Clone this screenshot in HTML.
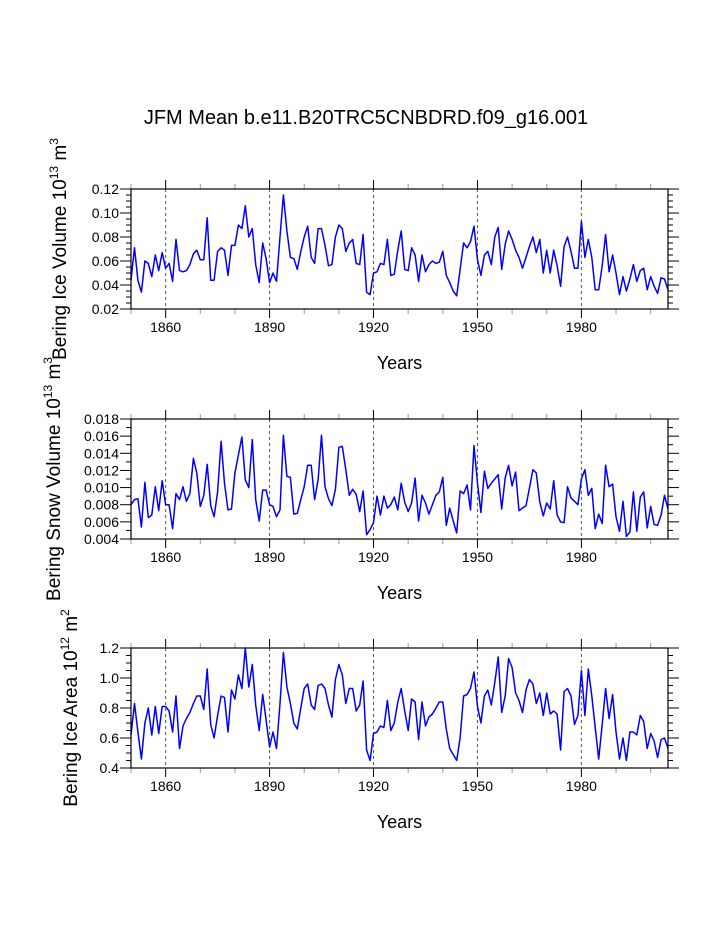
<!DOCTYPE html>
<html><head><meta charset="utf-8"><style>
body{margin:0;background:#fff;}
svg{display:block;font-family:"Liberation Sans",Arial,sans-serif;}
</style></head><body>
<svg id="chart" width="723" height="935" viewBox="0 0 723 935">
<text x="366" y="124" font-size="20" text-anchor="middle">JFM Mean b.e11.B20TRC5CNBDRD.f09_g16.001</text>
</svg>
<script>
const startYear = 1850;
const endYear = 2005;
const xTickLabels = [1860, 1890, 1920, 1950, 1980];
const iceVolume = [0.044,0.071,0.044,0.034,0.060,0.058,0.047,0.065,0.052,0.067,0.054,0.058,0.043,0.078,0.052,0.051,0.052,0.057,0.066,0.069,0.061,0.061,0.096,0.044,0.044,0.068,0.071,0.069,0.048,0.073,0.073,0.090,0.087,0.106,0.080,0.087,0.057,0.042,0.075,0.062,0.042,0.050,0.043,0.080,0.115,0.085,0.063,0.062,0.053,0.068,0.080,0.089,0.063,0.058,0.087,0.087,0.073,0.056,0.057,0.080,0.090,0.087,0.068,0.075,0.078,0.058,0.057,0.082,0.034,0.032,0.050,0.051,0.058,0.057,0.078,0.048,0.049,0.069,0.085,0.053,0.052,0.071,0.065,0.043,0.065,0.051,0.057,0.060,0.058,0.059,0.068,0.048,0.042,0.035,0.031,0.053,0.075,0.071,0.076,0.089,0.061,0.048,0.065,0.068,0.057,0.080,0.088,0.053,0.074,0.085,0.078,0.069,0.063,0.054,0.063,0.072,0.080,0.067,0.078,0.050,0.069,0.050,0.069,0.056,0.039,0.072,0.080,0.068,0.054,0.054,0.093,0.063,0.078,0.063,0.036,0.036,0.056,0.082,0.051,0.065,0.050,0.032,0.047,0.035,0.045,0.057,0.043,0.052,0.054,0.036,0.047,0.039,0.033,0.046,0.045,0.036];
const snowVolume = [0.0080,0.0086,0.0087,0.0054,0.0106,0.0065,0.0068,0.0101,0.0073,0.0108,0.0080,0.0080,0.0052,0.0093,0.0086,0.0101,0.0084,0.0093,0.0134,0.0117,0.0078,0.0091,0.0127,0.0079,0.0066,0.0095,0.0154,0.0105,0.0074,0.0075,0.0117,0.0138,0.0159,0.0109,0.0100,0.0156,0.0086,0.0061,0.0097,0.0097,0.0080,0.0078,0.0066,0.0074,0.0161,0.0113,0.0112,0.0069,0.0070,0.0086,0.0101,0.0126,0.0126,0.0086,0.0109,0.0161,0.0101,0.0087,0.0079,0.0098,0.0147,0.0148,0.0121,0.0091,0.0098,0.0092,0.0072,0.0096,0.0045,0.0051,0.0059,0.0090,0.0068,0.0090,0.0076,0.0080,0.0089,0.0074,0.0105,0.0083,0.0072,0.0082,0.0111,0.0061,0.0091,0.0082,0.0069,0.0080,0.0091,0.0095,0.0112,0.0056,0.0076,0.0061,0.0047,0.0096,0.0093,0.0103,0.0074,0.0149,0.0105,0.0071,0.0119,0.0099,0.0105,0.0110,0.0115,0.0075,0.0111,0.0126,0.0102,0.0118,0.0073,0.0076,0.0079,0.0099,0.0121,0.0117,0.0083,0.0067,0.0082,0.0075,0.0108,0.0068,0.0060,0.0059,0.0101,0.0088,0.0084,0.0080,0.0110,0.0121,0.0091,0.0099,0.0052,0.0069,0.0058,0.0126,0.0101,0.0104,0.0066,0.0049,0.0084,0.0043,0.0048,0.0095,0.0049,0.0089,0.0095,0.0053,0.0078,0.0057,0.0056,0.0068,0.0091,0.0075];
const iceArea = [0.62,0.83,0.64,0.46,0.70,0.80,0.62,0.81,0.63,0.81,0.81,0.78,0.64,0.88,0.53,0.68,0.73,0.77,0.83,0.88,0.88,0.79,1.06,0.69,0.60,0.75,0.88,0.87,0.64,0.92,0.86,1.02,0.93,1.20,0.94,1.09,0.82,0.65,0.89,0.72,0.54,0.64,0.53,0.83,1.17,0.94,0.83,0.70,0.66,0.80,0.93,0.96,0.82,0.79,0.95,0.96,0.93,0.82,0.74,0.99,1.09,1.02,0.83,0.93,0.93,0.78,0.82,0.98,0.52,0.45,0.63,0.64,0.68,0.67,0.85,0.65,0.70,0.84,0.93,0.78,0.65,0.86,0.84,0.59,0.84,0.68,0.74,0.76,0.80,0.84,0.84,0.66,0.53,0.49,0.45,0.60,0.88,0.89,0.93,1.04,0.81,0.70,0.88,0.92,0.82,0.97,1.14,0.77,0.88,1.13,1.07,0.90,0.85,0.77,0.92,0.99,0.96,0.83,0.90,0.75,0.90,0.76,0.78,0.76,0.52,0.91,0.93,0.88,0.69,0.75,1.05,0.75,1.06,0.88,0.67,0.46,0.69,0.93,0.73,0.89,0.64,0.46,0.60,0.45,0.64,0.64,0.62,0.75,0.71,0.53,0.63,0.58,0.47,0.59,0.60,0.53];
const iceVolTicks = ["0.02","0.04","0.06","0.08","0.10","0.12"];
const snowTicks = ["0.004","0.006","0.008","0.010","0.012","0.014","0.016","0.018"];
const areaTicks = ["0.4","0.6","0.8","1.0","1.2"];

const NS = "http://www.w3.org/2000/svg";
const svg = document.getElementById("chart");
const X0 = 131, X1 = 668;
function xScale(yr){ return X0 + (yr - startYear) / (endYear - startYear) * (X1 - X0); }
function mk(tag, attrs, parent){ const e = document.createElementNS(NS, tag); for (const k in attrs) e.setAttribute(k, attrs[k]); (parent||svg).appendChild(e); return e; }

function panel(cfg){
  const g = mk("g", {});
  
  
  const ymin = parseFloat(cfg.ticks[0]), ymax = parseFloat(cfg.ticks[cfg.ticks.length-1]);
  const yScale = v => cfg.bot - (v - ymin) / (ymax - ymin) * (cfg.bot - cfg.top);
  xTickLabels.forEach(yr => {
    const l = mk("line", {x1:xScale(yr), x2:xScale(yr), y1:cfg.top, y2:cfg.bot, stroke:"#555", "stroke-width":1, "stroke-dasharray":"3,3"}, g);
    
    
  });
  for (let yr = 1850; yr <= endYear; yr += 10) {
    const major = xTickLabels.includes(yr);
    const len = major ? 9 : 5;
    const col = major ? "#000" : "#999";
    const x = xScale(yr);
    mk("line", {x1:x, x2:x, y1:cfg.bot, y2:cfg.bot+len, stroke:col}, g);
    mk("line", {x1:x, x2:x, y1:cfg.top, y2:cfg.top-len, stroke:col}, g);
  }
  xTickLabels.forEach(yr => {
    const t = mk("text", {x:xScale(yr), y:cfg.bot+23, "font-size":14, "text-anchor":"middle"}, g);
    t.textContent = yr;
    
    
  });
  const nMinor = cfg.minor;
  const step = (parseFloat(cfg.ticks[1]) - ymin) / nMinor;
  const total = (ymax - ymin) / step;
  for (let i = 0; i <= Math.round(total); i++) {
    const v = ymin + i * step, y = yScale(v);
    const major = i % nMinor === 0;
    const len = major ? 11 : 5;
    mk("line", {x1:X0, x2:X0-len, y1:y, y2:y, stroke:"#000"}, g);
    mk("line", {x1:X1, x2:X1+len, y1:y, y2:y, stroke:"#000"}, g);
  }
  cfg.ticks.forEach(lbl => {
    const t = mk("text", {x:X0-12, y:yScale(parseFloat(lbl))+5, "font-size":14, "text-anchor":"end"}, g);
    t.textContent = lbl;
    
    
  });
  const pts = cfg.data.map((v,i) => xScale(startYear+i).toFixed(1) + "," + yScale(v).toFixed(1)).join(" ");
  const pl = mk("polyline", {points:pts, fill:"none", stroke:"#0000ff", "stroke-width":1.5, "stroke-linejoin":"round"}, g);
  
  
  const r = mk("rect", {x:X0, y:cfg.top, width:X1-X0, height:cfg.bot-cfg.top, fill:"none", stroke:"#000", "stroke-width":1.2}, g);
  
  
  const xt = mk("text", {x:(X0+X1)/2, y:cfg.bot+60, "font-size":18, "text-anchor":"middle"}, g);
  xt.textContent = "Years";
  
  
  const yt = mk("text", {x:0, y:0, "font-size":19, "text-anchor":"middle", transform:"translate("+cfg.ytx+","+((cfg.top+cfg.bot)/2)+") rotate(-90)"}, g);
  
  
  const a = mk("tspan", {}, yt); a.textContent = cfg.ylabel + " 10";
  const b = mk("tspan", {"font-size":12, dy:-8}, yt); b.textContent = cfg.exp1;
  const c = mk("tspan", {dy:8}, yt); c.textContent = " m";
  const d = mk("tspan", {"font-size":12, dy:-8}, yt); d.textContent = cfg.exp2;
}
panel({name:"ice-volume-panel", top:189, bot:309, data:iceVolume, ticks:iceVolTicks, minor:4, ylabel:"Bering Ice Volume", exp1:"13", exp2:"3", ytx:66});
panel({name:"snow-volume-panel", top:419, bot:539, data:snowVolume, ticks:snowTicks, minor:2, ylabel:"Bering Snow Volume", exp1:"13", exp2:"3", ytx:60});
panel({name:"ice-area-panel", top:648, bot:768, data:iceArea, ticks:areaTicks, minor:4, ylabel:"Bering Ice Area", exp1:"12", exp2:"2", ytx:77});
</script>
</body></html>
